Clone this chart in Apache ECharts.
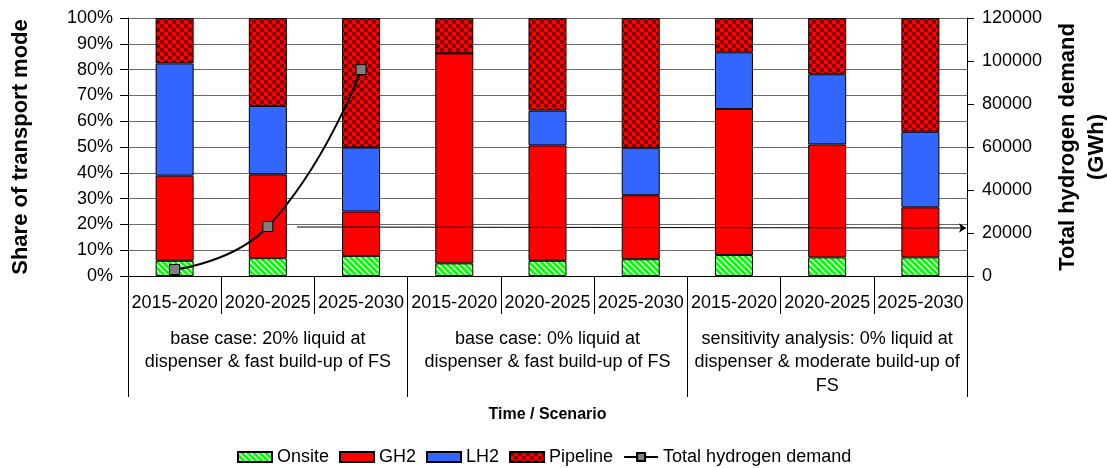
<!DOCTYPE html>
<html>
<head>
<meta charset="utf-8">
<script src="https://cdn.jsdelivr.net/npm/echarts@6.0.0/dist/echarts.min.js"></script>
<style>
  html, body { margin: 0; padding: 0; background: #fff; }
  #chart { width: 1107px; height: 468px; }
</style>
</head>
<body>
<div id="chart"></div>
<script>
// Periods (lower axis row) and scenarios (upper axis row)
const periods = ['2015-2020', '2020-2025', '2025-2030',
                 '2015-2020', '2020-2025', '2025-2030',
                 '2015-2020', '2020-2025', '2025-2030'];
const scenarios = [
    'base case: 20% liquid at\ndispenser & fast build-up of FS',
    'base case: 0% liquid at\ndispenser & fast build-up of FS',
    'sensitivity analysis: 0% liquid at\ndispenser & moderate build-up of\nFS'
];

// Share of transport mode (%)
const onsite   = [5.9, 6.9, 7.8, 4.9, 5.9, 6.5, 8.1, 7.2, 7.2];
const gh2      = [33.0, 32.5, 17.2, 81.4, 44.7, 24.8, 56.6, 43.8, 19.4];
const lh2      = [43.5, 26.5, 24.8, 0, 13.5, 18.4, 22.0, 27.2, 29.3];
const pipeline = [17.6, 34.1, 50.2, 13.7, 35.9, 50.3, 13.3, 21.8, 44.1];

// Total hydrogen demand (GWh), only given for the first scenario
const demand = [3000, 23000, 96000, '-', '-', '-', '-', '-', '-'];

const FONT = '"Liberation Sans", Arial, sans-serif';

// green with white diagonal hatch
function hatchPattern() {
    const c = document.createElement('canvas');
    c.width = 6; c.height = 6;
    const g = c.getContext('2d');
    g.fillStyle = '#00ff00';
    g.fillRect(0, 0, 6, 6);
    g.strokeStyle = '#ffffff';
    g.lineWidth = 1.3;
    g.beginPath();
    g.moveTo(-1, -1); g.lineTo(7, 7);
    g.moveTo(-1, 5); g.lineTo(1, 7);
    g.moveTo(5, -1); g.lineTo(7, 1);
    g.stroke();
    return c;
}

// red / dark red checkerboard
function checkerPattern() {
    const c = document.createElement('canvas');
    c.width = 8; c.height = 8;
    const g = c.getContext('2d');
    g.fillStyle = '#ff0000';
    g.fillRect(0, 0, 8, 8);
    g.fillStyle = '#800000';
    g.fillRect(0, 0, 4, 4);
    g.fillRect(4, 4, 4, 4);
    return c;
}

const chart = echarts.init(document.getElementById('chart'));

const barBase = {
    type: 'bar',
    stack: 'share',
    xAxisIndex: 0,
    yAxisIndex: 0,
    barWidth: 38,
    emphasis: { disabled: true }
};

const option = {
    animation: false,
    textStyle: { fontFamily: FONT, color: '#000' },
    grid: { left: 128, right: 140, top: 18, height: 258, outerBoundsMode: 'none', containLabel: false },
    legend: {
        left: 237,
        top: 447,
        padding: 0,
        itemWidth: 34,
        itemHeight: 10,
        itemGap: 10,
        textStyle: { fontSize: 18, fontFamily: FONT, color: '#000', lineHeight: 20 },
        data: [
            { name: 'Onsite', icon: 'rect' },
            { name: 'GH2', icon: 'rect' },
            { name: 'LH2', icon: 'rect' },
            { name: 'Pipeline', icon: 'rect' },
            { name: 'Total hydrogen demand' }
        ]
    },
    xAxis: [
        {
            type: 'category',
            position: 'bottom',
            data: periods,
            axisLine: { lineStyle: { color: '#000', width: 1 } },
            axisTick: { show: true, interval: 0, length: 38, lineStyle: { color: '#000' } },
            axisLabel: { interval: 0, fontSize: 18, margin: 17, lineHeight: 20, color: '#000' }
        },
        {
            type: 'category',
            position: 'bottom',
            data: scenarios,
            axisLine: { lineStyle: { color: '#000', width: 1 } },
            axisTick: { show: true, interval: 0, length: 121, lineStyle: { color: '#000' } },
            axisLabel: { interval: 0, fontSize: 18, margin: 51, lineHeight: 23.5, color: '#000' },
            name: 'Time / Scenario',
            nameLocation: 'middle',
            nameGap: 131,
            nameTextStyle: { fontSize: 16, fontWeight: 'bold', color: '#000' }
        }
    ],
    yAxis: [
        {
            type: 'value',
            min: 0,
            max: 100,
            interval: 10,
            name: 'Share of transport mode',
            nameLocation: 'middle',
            nameGap: 96,
            nameTextStyle: { fontSize: 22, fontWeight: 'bold', color: '#000' },
            axisLine: { show: true, lineStyle: { color: '#000' } },
            axisTick: { show: true, length: 8, lineStyle: { color: '#000' } },
            axisLabel: { formatter: '{value}%', fontSize: 18, margin: 15, color: '#000' },
            splitLine: { show: true, lineStyle: { color: '#6a6a6a', width: 1 } }
        },
        {
            type: 'value',
            position: 'right',
            min: 0,
            max: 120000,
            interval: 20000,
            name: 'Total hydrogen demand\n(GWh)',
            nameLocation: 'middle',
            nameRotate: 90,
            nameGap: 86,
            nameTextStyle: { fontSize: 22, fontWeight: 'bold', color: '#000', lineHeight: 29 },
            axisLine: { show: true, lineStyle: { color: '#000' } },
            axisTick: { show: true, length: 7, lineStyle: { color: '#000' } },
            axisLabel: { formatter: v => String(v), fontSize: 18, margin: 15, color: '#000' },
            splitLine: { show: false }
        }
    ],
    series: [
        {
            ...barBase,
            name: 'Onsite',
            data: onsite,
            itemStyle: { color: { image: hatchPattern(), repeat: 'repeat' }, borderColor: '#000', borderWidth: 1 }
        },
        {
            ...barBase,
            name: 'GH2',
            data: gh2,
            itemStyle: { color: '#ff0000', borderColor: '#000', borderWidth: 1 }
        },
        {
            ...barBase,
            name: 'LH2',
            data: lh2,
            itemStyle: { color: '#3366ff', borderColor: '#000', borderWidth: 1 }
        },
        {
            ...barBase,
            name: 'Pipeline',
            data: pipeline,
            itemStyle: { color: { image: checkerPattern(), repeat: 'repeat' }, borderColor: '#000', borderWidth: 1 }
        },
        {
            type: 'line',
            name: 'Total hydrogen demand',
            xAxisIndex: 0,
            yAxisIndex: 1,
            data: demand,
            smooth: true,
            z: 5,
            symbol: 'rect',
            symbolSize: 10,
            lineStyle: { color: '#000', width: 2 },
            itemStyle: { color: '#808080', borderColor: '#000', borderWidth: 1 },
            emphasis: { disabled: true },
            // arrow pointing to the right-hand axis
            markLine: {
                silent: true,
                symbol: ['none', 'arrow'],
                symbolSize: 7,
                label: { show: false },
                lineStyle: { color: '#000', width: 1.2, type: 'solid' },
                data: [[{ x: 297, y: 227 }, { x: 966, y: 228 }]]
            }
        }
    ]
};

chart.setOption(option);
</script>
</body>
</html>
